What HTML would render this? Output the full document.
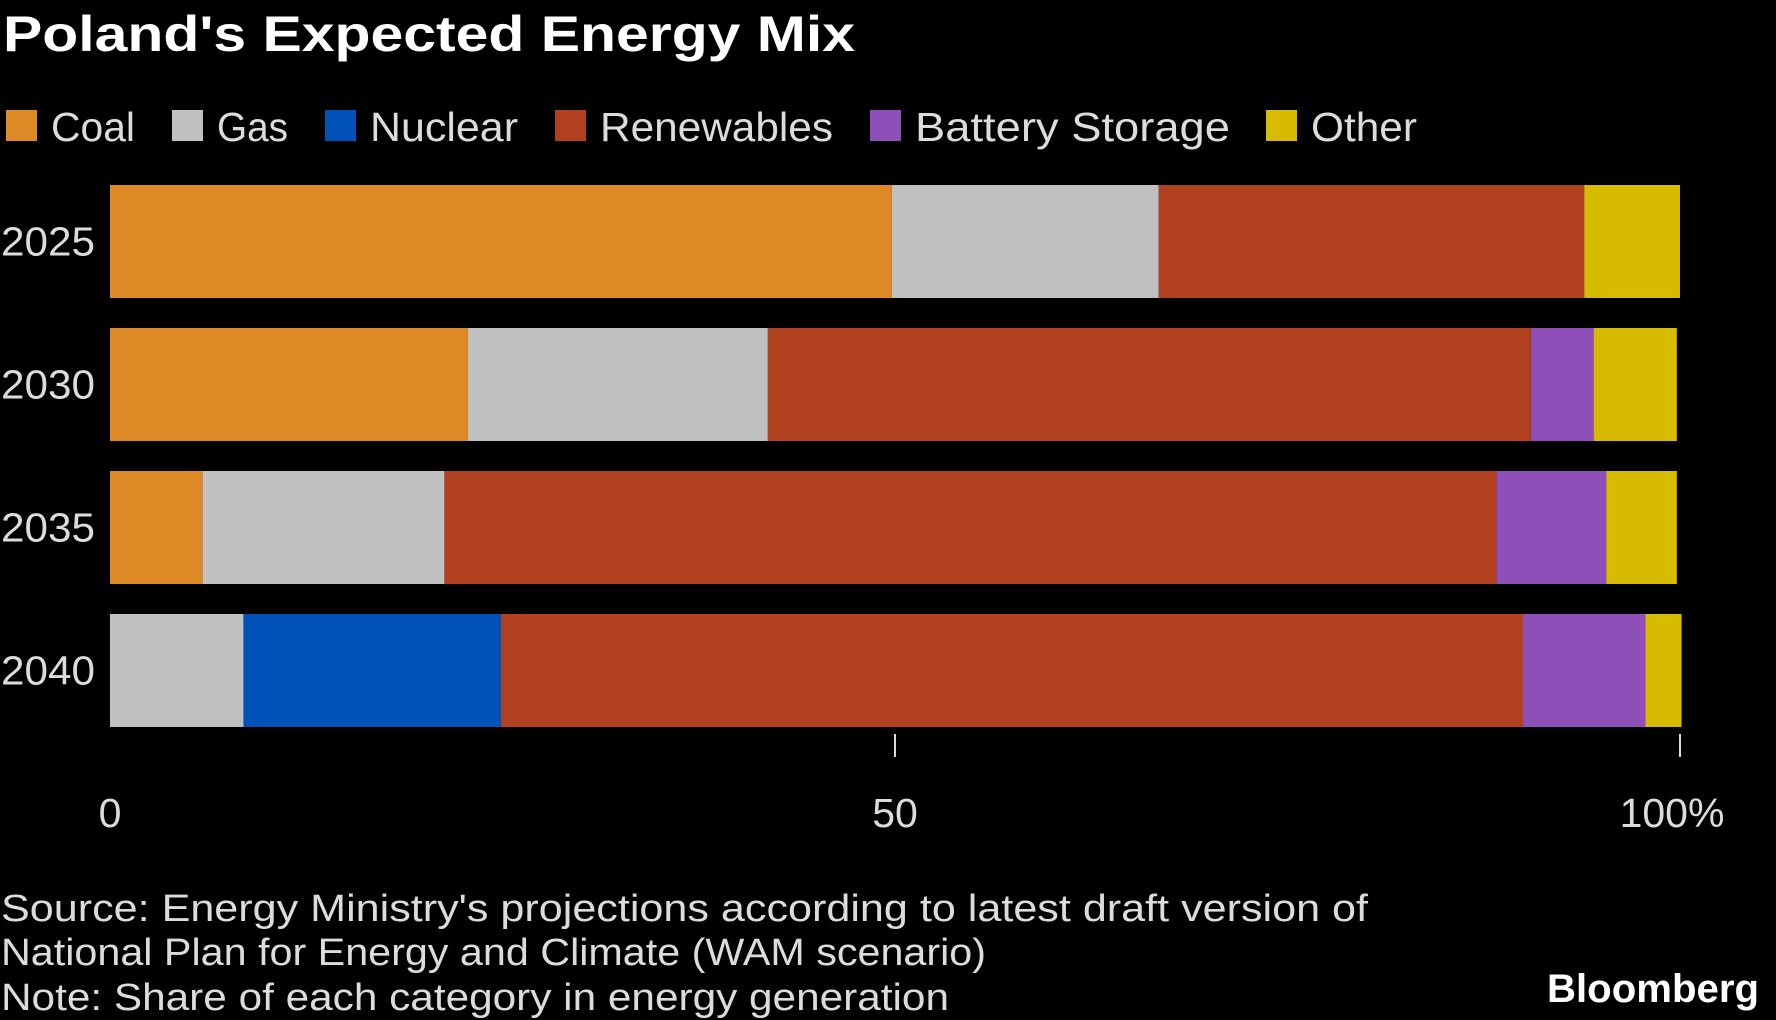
<!DOCTYPE html>
<html><head><meta charset="utf-8"><style>
html,body{margin:0;padding:0;background:#000;}
svg{display:block;}
text{font-family:"Liberation Sans Narrow","Liberation Sans",sans-serif;}
</style></head><body>
<svg id="chart" width="1776" height="1020" viewBox="0 0 1776 1020" xmlns="http://www.w3.org/2000/svg">
<rect width="1776" height="1020" fill="#000"/>
<text x="3" y="51" font-size="50" font-weight="bold" fill="#fff" textLength="852" lengthAdjust="spacingAndGlyphs">Poland's Expected Energy Mix</text>
<g id="legend"></g>
<g id="bars"></g>
<g id="axis"></g>
<text x="1" y="921" font-size="38" fill="#dcdcdc" textLength="1367" lengthAdjust="spacingAndGlyphs">Source: Energy Ministry's projections according to latest draft version of</text>
<text x="1" y="965" font-size="38" fill="#dcdcdc" textLength="985" lengthAdjust="spacingAndGlyphs">National Plan for Energy and Climate (WAM scenario)</text>
<text x="1" y="1010" font-size="38" fill="#dcdcdc" textLength="948" lengthAdjust="spacingAndGlyphs">Note: Share of each category in energy generation</text>
<text x="1547" y="1002" font-size="40" font-weight="bold" fill="#fff" textLength="212" lengthAdjust="spacingAndGlyphs">Bloomberg</text>
</svg>
<script>
const years = ["2025","2030","2035","2040"];
const seriesNames = ["Coal","Gas","Nuclear","Renewables","Battery Storage","Other"];
const coal = [49.8, 22.8, 5.9, 0];
const gas = [17.0, 19.1, 15.4, 8.5];
const nuclear = [0, 0, 0, 16.4];
const renewables = [27.1, 48.6, 67.0, 65.1];
const battery = [0, 4.0, 7.0, 7.8];
const other = [6.1, 5.3, 4.5, 2.3];
const tickValues = [0, 50, 100];
const tickLabels = ["0", "50", "100%"];

const NS = "http://www.w3.org/2000/svg";
const colors = ["#dd8a26","#c0c0c0","#0052b8","#b1401f","#8e50b8","#d6bb00"];
const series = [coal, gas, nuclear, renewables, battery, other];
const x0 = 110, x1 = 1680;
const xScale = v => x0 + (x1 - x0) * v / 100;
const bandTop = 185, bandStep = 143, barH = 113;
const yScale = i => bandTop + i * bandStep;
function mk(tag, attrs, parent){const e=document.createElementNS(NS,tag);for(const k in attrs)e.setAttribute(k,attrs[k]);parent.appendChild(e);return e;}

const legend = document.getElementById('legend');
const legX = [6,172,325,555,870,1266];
const legW = [84,71,148,233,315,106];
seriesNames.forEach((n,i)=>{
  const r = mk('rect',{x:legX[i],y:110,width:31,height:31,fill:colors[i]},legend);
  
  
  const t = mk('text',{x:legX[i]+45,y:141,'font-size':41,fill:'#dcdcdc',textLength:legW[i],lengthAdjust:'spacingAndGlyphs'},legend);
  t.textContent = n;
  
  
});

const bars = document.getElementById('bars');
years.forEach((y,i)=>{
  const top = yScale(i);
  const lab = mk('text',{x:1,y:top+barH/2+14,'font-size':41,fill:'#dcdcdc',textLength:94,lengthAdjust:'spacingAndGlyphs'},bars);
  lab.textContent = y;
  
  
  let acc = 0;
  series.forEach((s,j)=>{
    const v = s[i];
    if (v > 0) {
      const r = mk('rect',{x:xScale(acc),y:top,width:xScale(acc+v)-xScale(acc),height:barH,fill:colors[j]},bars);
      
      
    }
    acc += v;
  });
});

const axis = document.getElementById('axis');
tickValues.forEach((v,i)=>{
  const x = xScale(v);
  if (v > 0) {
    const l = mk('line',{x1:x,x2:x,y1:734,y2:757,stroke:'#dcdcdc','stroke-width':2},axis);
    
    
  }
  const t = mk('text',{x: v===100 ? x-8 : x, y:827,'font-size':41,fill:'#dcdcdc','text-anchor':'middle'},axis);
  t.textContent = tickLabels[i];
  
  
});
</script>
</body></html>
